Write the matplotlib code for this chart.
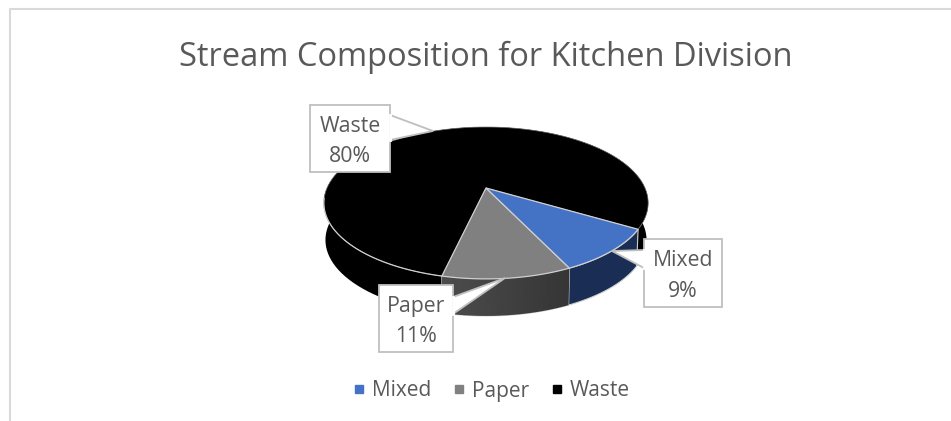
import matplotlib
matplotlib.use("Agg")
import matplotlib.pyplot as plt
from matplotlib.lines import Line2D
from matplotlib.patches import Polygon
import numpy as np

plt.rcParams['font.family'] = ['Open Sans', 'DejaVu Sans']

categories = ["Mixed", "Paper", "Waste"]
values = [9.4, 10.7, 79.9]
top_colors = ["#4472c4", "#808080", "#000000"]
side_colors = ["#1a2d55", "#404040", "#000000"]
text_color = "#595959"
edge_color = "#cfcfcf"

# pie geometry in pixels: the pie is a circle seen through a perspective
xc, yc = 486, 188
rx, ry = 159, 73
persp = 0.197
depth = 37
start = 30.6


def project(theta):
    t = np.radians(theta)
    s = 1 / (1 - persp * np.sin(t))
    return xc + rx * np.cos(t) * s, yc + ry * np.sin(t) * s


def wall_points(a, b):
    th = np.linspace(a, b, 120)
    x, y = project(th)
    xb = xc + (x - xc) * 0.99
    yb = y + depth
    return np.vstack([np.column_stack([x, y]), np.column_stack([xb, yb])[::-1]])


def top_points(a, b):
    th = np.linspace(a, b, 120)
    x, y = project(th)
    return np.vstack([[xc, yc], np.column_stack([x, y])])


fig, ax = plt.subplots(figsize=(9.51, 4.21), dpi=100)
fig.subplots_adjust(0, 0, 1, 1)
ax.axis("off")

# chart frame
ax.plot([9.5, 9.5, 951], [421, 8.5, 8.5], color="#d9d9d9", lw=1.5)

# slice angles from the values
edges = start + np.cumsum([0] + values) * 3.6
order = [2, 1, 0]
for i in order:
    ec = "none" if categories[i] == "Waste" else edge_color
    poly = Polygon(wall_points(edges[i], edges[i + 1]), closed=True, fc=side_colors[i],
                   ec=ec, lw=0.8, zorder=2)
    ax.add_patch(poly)
    if categories[i] == "Paper":
        grad = np.linspace(0.30, 0.21, 200).reshape(1, -1)
        x0, x1 = poly.get_xy()[:, 0].min(), poly.get_xy()[:, 0].max()
        im = ax.imshow(grad, extent=[x0, x1, 330, 260], cmap="gray",
                       vmin=0, vmax=1, aspect="auto", zorder=2.1)
        im.set_clip_path(poly)

for i in order:
    ec = "#777777" if categories[i] == "Waste" else edge_color
    lw = 0.5 if categories[i] == "Waste" else 0.9
    ax.add_patch(Polygon(top_points(edges[i], edges[i + 1]), closed=True, fc=top_colors[i],
                         ec=ec, lw=lw, zorder=3))

# the front rim of the big slice shows up light against its wall
rim = np.linspace(edges[2], 172, 60)
rim_x, rim_y = project(rim)
ax.plot(rim_x, rim_y, color=edge_color, lw=0.9, zorder=3.1)

# callouts: box left, top, right, bottom, then the pointer
boxes = {
    "Mixed": (644, 239, 722, 307),
    "Paper": (379, 285, 453, 352),
    "Waste": (310, 105, 390, 172),
}
pointers = {
    "Mixed": [(644, 250), (612, 251), (644, 268)],
    "Paper": [(453, 297), (505, 278), (453, 314)],
    "Waste": [(390, 115), (433, 131), (390, 140)],
}
for name, val in zip(categories, values):
    l, t, r, b = boxes[name]
    p = pointers[name]
    ax.add_patch(Polygon([(l, t), (r, t), (r, b), (l, b)], closed=True, fc="white",
                         ec="#bfbfbf", lw=1.3, zorder=4))
    ax.add_patch(Polygon(p, closed=False, fc="white", ec="#bfbfbf", lw=1.3, zorder=5))
    # hide the box border under the pointer base
    ax.plot([p[0][0], p[2][0]], [p[0][1], p[2][1]], color="white", lw=2, zorder=5)
    ax.text((l + r) / 2, (t + b) / 2 + 3, f"{name}\n{val:.0f}%", ha="center", va="center",
            fontsize=15.3, color=text_color, linespacing=1.62, zorder=6)

ax.text(486, 57, "Stream Composition for Kitchen Division", ha="center", va="center",
        fontsize=23.5, color=text_color)

handles = [Line2D([], [], ls="", marker="s", ms=5.5, color=c) for c in top_colors]
ax.legend(handles, categories, ncol=3, loc="center", bbox_to_anchor=(488 / 951, 1 - 391 / 421),
          frameon=False, fontsize=15, labelcolor=text_color, handletextpad=0.0,
          columnspacing=0.75, handlelength=1.2)

ax.set_xlim(0, 951)
ax.set_ylim(421, 0)
fig.savefig("out.png", dpi=100)
